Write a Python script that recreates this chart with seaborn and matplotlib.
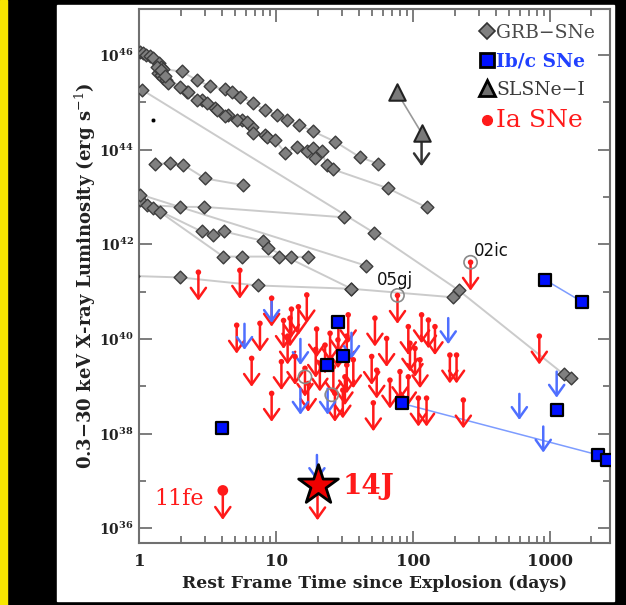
import numpy as np
import pandas as pd
import matplotlib
matplotlib.use("Agg")
import matplotlib.pyplot as plt
import seaborn as sns
from matplotlib.lines import Line2D
from matplotlib.patches import Rectangle
from matplotlib.ticker import FixedLocator, NullFormatter, FuncFormatter, LogLocator

# ---------------- data: time since explosion (days), log10 L_X (erg/s) ----------------
# GRB-SNe light curves
grb1_t = [1.01, 1.06, 1.12, 1.19, 1.26, 1.40, 1.45, 1.50, 2.04, 2.62, 3.28, 4.23, 4.75, 5.44,
          6.79, 8.27, 10.1, 11.9, 14.7, 18.4, 26.8, 40.8, 55.6]
grb1_L = [46.06, 46.04, 46.00, 45.97, 45.94, 45.82, 45.75, 45.70, 45.65, 45.47, 45.34, 45.27,
          45.22, 45.12, 44.98, 44.84, 44.73, 44.63, 44.52, 44.39, 44.17, 43.84, 43.70]
grb2_t = [1.37, 1.43, 1.49, 1.56, 1.62, 2.22, 2.85, 3.57, 4.47, 5.59, 6.61, 6.76, 8.27, 8.51,
          9.8, 11.6, 14.1, 16.7, 18.6, 19.2, 21.4, 23.3, 26.1, 65.7, 125]
grb2_L = [45.62, 45.58, 45.51, 45.46, 45.41, 45.22, 45.05, 44.88, 44.73, 44.63, 44.48, 44.35,
          44.31, 44.27, 44.20, 43.93, 44.06, 43.96, 44.03, 43.82, 43.96, 43.68, 43.58, 43.18, 42.78]
grb10_t = [1.35, 1.45, 1.55, 1.98, 2.28, 2.62, 3.10, 3.67, 4.23, 5.14, 6.08]
grb10_L = [45.75, 45.68, 45.55, 45.33, 45.22, 45.05, 44.98, 44.84, 44.70, 44.63, 44.59]
grb3_t = [1.05, 51.9, 214, 1260, 1423]
grb3_L = [45.26, 42.24, 41.03, 39.25, 39.17]
grb4_t = [1.30, 1.68, 2.09, 3.02, 5.74]
grb4_L = [43.70, 43.71, 43.68, 43.39, 43.25]
grb5_t = [1.01, 1.14, 1.99, 2.97, 31.0]
grb5_L = [42.94, 42.83, 42.79, 42.79, 42.57]
grb6_t = [1.02, 44.9]
grb6_L = [43.05, 41.55]
grb7_t = [1.26, 2.85, 3.47, 4.17, 8.04, 8.74, 35.4]
grb7_L = [42.77, 42.27, 42.20, 42.27, 42.07, 41.92, 41.06]
grb8_t = [1.42, 4.10, 5.65, 10.5, 12.8, 17.1]
grb8_L = [42.68, 41.74, 41.74, 41.74, 41.73, 41.74]
grb9_t = [0.9, 1.98, 7.31, 35.4, 196]
grb9_L = [41.33, 41.30, 41.13, 41.06, 40.88]

# SLSNe-I
sl_t = [75.7, 115]
sl_L = [45.22, 44.35]
sl_lim = [False, True]

# Ib/c SNe detections
ibc_t = [3.99, 23.3, 28.4, 30.8, 82.3, 916, 1695, 1114, 2240, 2577]
ibc_L = [38.11, 39.45, 40.36, 39.63, 38.64, 41.25, 40.79, 38.50, 37.55, 37.44]
ibc_lineA_t = [916, 1695]
ibc_lineA_L = [41.25, 40.79]
ibc_lineB_t = [82.3, 2240, 2577]
ibc_lineB_L = [38.64, 37.55, 37.44]
# Ib/c upper limits
ibc_ul_t = [5.86, 9.25, 15.0, 15.0, 23.7, 35.4, 180, 595, 1114, 889, 19.8]
ibc_ul_L = [40.32, 40.89, 40.0, 38.95, 38.95, 40.13, 40.44, 38.84, 39.31, 38.15, 37.55]

# Ia SNe upper limits
ia_t = [2.70, 5.42, 5.14, 7.60, 6.61, 9.25, 9.25, 10.9, 12.9, 14.5, 16.7, 12.6, 13.7, 19.7,
        16.2, 17.1, 20.8, 24.7, 26.1, 26.8, 32.7, 33.5, 32.7, 30.6, 36.5, 31.7, 49.7, 52.5,
        54.1, 51.1, 63.9, 67.6, 80.0, 92.0, 94.6, 103, 112, 92.0, 115, 129, 144, 109, 125,
        185, 207, 232, 76.7, 262, 832, 12.1, 19.4, 11.3, 22.7, 28.2, 28.4]
ia_L = [41.41, 41.45, 40.29, 40.33, 39.59, 40.86, 38.85, 39.52, 40.63, 40.68, 40.93, 40.44,
        39.63, 40.21, 39.38, 39.06, 39.49, 40.12, 39.41, 38.85, 39.45, 40.51, 40.06, 38.92,
        39.56, 39.20, 39.63, 40.44, 39.34, 38.65, 40.01, 39.13, 39.31, 40.26, 39.91, 39.80,
        39.56, 39.20, 40.51, 40.40, 40.26, 38.75, 38.75, 39.66, 39.66, 38.71, 40.92, 41.62,
        40.06, 40.06, 39.78, 40.39, 39.87, 39.98, 40.30]
# gray open circles
circ_t = [76.7, 262, 16.2, 25.4]
circ_L = [40.92, 41.62, 39.20, 38.82]
# named SNe
sn11fe_t, sn11fe_L = 4.07, 36.80
sn14j_t, sn14j_L = 20.0, 36.92
blackdot_t, blackdot_L = 1.26, 44.63

legend_labels = ["GRB\u2212SNe", "Ib/c SNe", "SLSNe\u2212I", "Ia SNe"]
xtick_vals = [1, 10, 100, 1000]
ytick_exps = [36, 38, 40, 42, 44, 46]

# ---------------- styling ----------------
sns.set_style("ticks")
plt.rcParams['font.family'] = ['DejaVu Serif']
plt.rcParams['mathtext.fontset'] = 'dejavuserif'

RED = '#ff1a1a'
BLUE_AR = '#4f6fff'
GRAY_LINE = '#cbcbcb'
ARROW = '->,head_length=0.45,head_width=0.32'

fig = plt.figure(figsize=(6.26, 6.05), dpi=100, facecolor='black')
fig.patches.append(Rectangle((0, 0), 7 / 626, 1, transform=fig.transFigure,
                             color='#f7e600', zorder=-10))
fig.patches.append(Rectangle((57 / 626, 1 - 601 / 605), (614 - 57) / 626, (601 - 5) / 605,
                             transform=fig.transFigure, color='white', zorder=-10))

ax = fig.add_axes([139.3 / 626, 1 - 543 / 605, (610 - 139.3) / 626, (543 - 9) / 605])
ax.set_zorder(5)
ax.set_facecolor('white')
ax.set_xscale('log')
ax.set_yscale('log')
ax.set_xlim(1, 2730)
ax.set_ylim(10 ** 35.69, 10 ** 46.97)

# GRB tracks
tracks = [(grb1_t, grb1_L), (grb2_t, grb2_L), (grb10_t, grb10_L), (grb3_t, grb3_L),
          (grb4_t, grb4_L), (grb5_t, grb5_L), (grb6_t, grb6_L), (grb7_t, grb7_L),
          (grb8_t, grb8_L), (grb9_t, grb9_L)]
rows = []
for i, (tt, ll) in enumerate(tracks):
    for t, l in zip(tt, ll):
        rows.append(dict(t=t, L=10 ** l, track=i))
df_grb = pd.DataFrame(rows)
sns.lineplot(data=df_grb, x='t', y='L', units='track', estimator=None, sort=False,
             color=GRAY_LINE, lw=1.4, ax=ax, legend=False, zorder=1)

# Ib/c lines
sns.lineplot(x=ibc_lineA_t, y=[10 ** v for v in ibc_lineA_L], color='#7d9cff', lw=1.1,
             ax=ax, legend=False, zorder=1, sort=False, estimator=None)
sns.lineplot(x=ibc_lineB_t, y=[10 ** v for v in ibc_lineB_L], color='#7d9cff', lw=1.1,
             ax=ax, legend=False, zorder=1, sort=False, estimator=None)

# SLSN line
sns.lineplot(x=sl_t, y=[10 ** v for v in sl_L], color='#999999', lw=1.2, ax=ax,
             legend=False, zorder=1, sort=False, estimator=None)

# Ia upper limits (red arrows)
for t, l in zip(ia_t, ia_L):
    ax.annotate('', xy=(t, 10 ** (l - 0.6)), xytext=(t, 10 ** l),
                arrowprops=dict(arrowstyle=ARROW, color=RED, lw=1.8, shrinkA=0, shrinkB=0,
                                mutation_scale=17), zorder=4)
sns.scatterplot(x=ia_t, y=[10 ** v for v in ia_L], color=RED, s=16, edgecolor='none',
                ax=ax, legend=False, zorder=5)

# gray circles
sns.scatterplot(x=circ_t, y=[10 ** v for v in circ_L], facecolor='none', edgecolor='#8a8a8a',
                s=90, linewidth=1.2, ax=ax, legend=False, zorder=5)

# Ib/c upper limits (blue arrows)
for t, l in zip(ibc_ul_t, ibc_ul_L):
    ax.annotate('', xy=(t, 10 ** (l - 0.55)), xytext=(t, 10 ** l),
                arrowprops=dict(arrowstyle=ARROW, color=BLUE_AR, lw=1.8, shrinkA=0, shrinkB=0,
                                mutation_scale=17), zorder=4)

# GRB diamonds
sns.scatterplot(data=df_grb, x='t', y='L', marker='D', s=42, color='#808080',
                edgecolor='#3c3c3c', linewidth=1.0, ax=ax, legend=False, zorder=6)
sns.scatterplot(x=[blackdot_t], y=[10 ** blackdot_L], color='black', s=10, ax=ax,
                legend=False, zorder=6)

# Ib/c squares
sns.scatterplot(x=ibc_t, y=[10 ** v for v in ibc_L], marker='s', s=85, color='#0010ff',
                edgecolor='black', linewidth=1.6, ax=ax, legend=False, zorder=7)

# SLSNe triangles
sns.scatterplot(x=sl_t, y=[10 ** v for v in sl_L], marker='^', s=140, color='#7a7a7a',
                edgecolor='#222222', linewidth=1.5, ax=ax, legend=False, zorder=7)
for t, l, lim in zip(sl_t, sl_L, sl_lim):
    if lim:
        ax.annotate('', xy=(t, 10 ** (l - 0.7)), xytext=(t, 10 ** l),
                    arrowprops=dict(arrowstyle=ARROW, color='#333333', lw=1.8, shrinkA=0,
                                    shrinkB=0, mutation_scale=17), zorder=6)

# SN 2011fe and SN 2014J
ax.annotate('', xy=(sn11fe_t, 10 ** (sn11fe_L - 0.62)), xytext=(sn11fe_t, 10 ** sn11fe_L),
            arrowprops=dict(arrowstyle=ARROW, color=RED, lw=1.8, shrinkA=0, shrinkB=0,
                            mutation_scale=17), zorder=4)
sns.scatterplot(x=[sn11fe_t], y=[10 ** sn11fe_L], color=RED, s=60, edgecolor='none', ax=ax,
                legend=False, zorder=8)
ax.annotate('', xy=(sn14j_t, 10 ** (sn14j_L - 0.75)), xytext=(sn14j_t, 10 ** sn14j_L),
            arrowprops=dict(arrowstyle=ARROW, color=RED, lw=1.8, shrinkA=0, shrinkB=0,
                            mutation_scale=17), zorder=4)
sns.scatterplot(x=[sn14j_t], y=[10 ** sn14j_L], marker='*', s=900, color='#ee0000',
                edgecolor='black', linewidth=2.0, ax=ax, legend=False, zorder=8)

# labels on plot
ax.text(73.5, 10 ** 41.25, '05gj', ha='center', va='center', fontsize=12, color='#111111',
        family='DejaVu Sans', zorder=9)
ax.text(369, 10 ** 41.86, '02ic', ha='center', va='center', fontsize=12, color='#111111',
        family='DejaVu Sans', zorder=9)
ax.text(1.95, 10 ** 36.62, '11fe', ha='center', va='center', fontsize=16, color=RED, zorder=9)
ax.text(47.1, 10 ** 36.89, '14J', ha='center', va='center', fontsize=20, color=RED,
        fontweight='bold', zorder=9)

# legend
handles = [Line2D([], [], marker='D', ls='', color='#808080', mec='#333333', mew=1.2, ms=8),
           Line2D([], [], marker='s', ls='', color='#0010ff', mec='black', mew=2, ms=10),
           Line2D([], [], marker='^', ls='', color='#6e6e6e', mec='black', mew=2, ms=12),
           Line2D([], [], marker='o', ls='', color=RED, mec=RED, ms=7)]
leg = ax.legend(handles, legend_labels, loc='upper right', frameon=False, handlelength=0.7,
                handletextpad=0.15, borderaxespad=0.05, labelspacing=0.55, fontsize=13.5,
                borderpad=0.75)
txt_colors = ['#4a4a4a', '#2040ff', '#3a3a3a', RED]
for txt, c in zip(leg.get_texts(), txt_colors):
    txt.set_color(c)
leg.get_texts()[1].set_fontweight('bold')
leg.get_texts()[3].set_fontsize(18)
leg.set_zorder(10)

# axes formatting
ax.xaxis.set_major_locator(FixedLocator(xtick_vals))
ax.xaxis.set_minor_locator(LogLocator(base=10, subs=np.arange(2, 10)))
ax.xaxis.set_major_formatter(FuncFormatter(lambda v, p: '%d' % round(v)))
ax.xaxis.set_minor_formatter(NullFormatter())
ax.yaxis.set_major_locator(FixedLocator([10.0 ** e for e in ytick_exps]))
ax.yaxis.set_minor_locator(FixedLocator([10.0 ** e for e in range(35, 48, 2)]))
ax.yaxis.set_major_formatter(FuncFormatter(lambda v, p: r'$\mathbf{10^{%d}}$' % round(np.log10(v))))
ax.yaxis.set_minor_formatter(NullFormatter())
ax.tick_params(which='both', direction='in', top=True, right=True, color='#666666',
               width=1.2, labelcolor='#222222')
ax.tick_params(which='major', length=9)
ax.tick_params(which='minor', length=5)
ax.tick_params(axis='x', which='major', pad=7, labelsize=12)
ax.tick_params(axis='y', which='major', pad=4, labelsize=10)
for lab in ax.get_xticklabels():
    lab.set_fontweight('bold')
for sp in ax.spines.values():
    sp.set_color('#707070')
    sp.set_linewidth(1.5)

ax.set_xlabel('Rest Frame Time since Explosion (days)', fontsize=12.3, fontweight='bold',
              color='#222222', labelpad=4)
ax.set_ylabel('0.3\u221230 keV X-ray Luminosity (erg s$^{-1}$)', fontsize=13,
              fontweight='bold', color='#222222', labelpad=1)

fig.savefig('out.png', dpi=100, facecolor=fig.get_facecolor())
